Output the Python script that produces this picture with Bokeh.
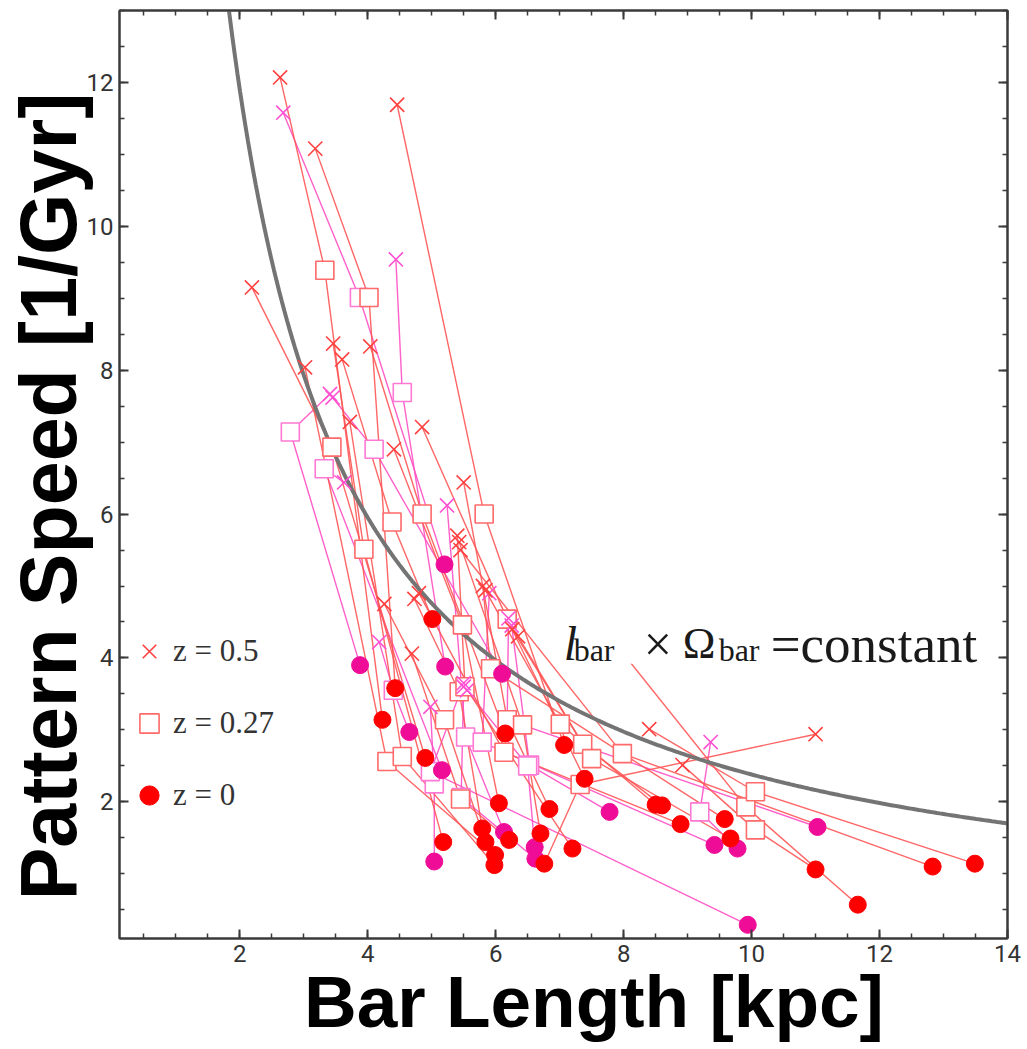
import numpy as np
from bokeh.plotting import figure
from bokeh.models import (Range1d, LinearAxis, SingleIntervalTicker, Legend,
                          LegendItem, Label, BoxAnnotation)
from bokeh.embed import file_html
from bokeh.resources import INLINE

# ---------------- data ----------------
# red tracks: bar length / pattern speed at z=0.5, z=0.27, z=0
red_len_z05 = [2.63, 3.18, 4.46, 2.19, 3.46, 4.04, 3.60, 3.02, 3.72, 4.85, 4.41, 5.50, 5.43, 5.84,
               4.73, 4.26, 6.26, 4.69, 7.60, 8.40, 8.92, 11.00, 5.40, 5.45, 4.80, 5.80, 6.35]
red_spd_z05 = [12.07, 11.08, 11.69, 9.15, 8.37, 8.33, 8.15, 8.04, 7.28, 7.21, 6.90, 6.44, 5.61, 4.94,
               4.82, 4.75, 4.40, 4.06, 4.50, 3.01, 2.51, 2.94, 5.70, 5.50, 4.90, 5.00, 4.30]
red_len_z027 = [3.33, 4.02, 5.82, 3.44, 3.94, 4.85, 4.38, 4.30, 4.54, 6.18, 5.48, 6.18, 6.42, 7.01,
                5.43, 5.20, 7.36, 5.45, 9.91, 10.06, 10.06, 7.32, 5.52, 7.98, 6.13, 5.92, 7.50]
red_spd_z027 = [9.39, 9.01, 6.00, 6.93, 5.51, 6.00, 5.89, 2.56, 2.63, 4.54, 4.46, 3.14, 3.07, 3.08,
                3.53, 3.14, 2.80, 2.04, 1.93, 2.14, 1.61, 2.24, 3.60, 2.67, 2.69, 3.85, 2.60]
red_len_z0 = [4.23, 4.43, 7.07, 4.90, 5.18, 6.15, 5.01, 5.99, 5.98, 7.39, 6.05, 6.84, 6.70, 8.50,
              5.79, 5.84, 8.60, 6.21, 11.66, 13.49, 11.00, 6.76, 7.20, 12.83, 8.89, 9.58, 9.67]
red_spd_z0 = [3.14, 3.58, 2.79, 2.61, 1.44, 2.95, 4.54, 1.26, 1.12, 2.32, 1.98, 1.90, 1.56, 1.96,
              1.63, 1.44, 1.95, 1.47, 0.57, 1.14, 1.06, 1.14, 1.35, 1.10, 1.69, 1.76, 1.49]

# magenta tracks
mag_len_z05 = [2.68, 4.44, 3.41, 3.63, 3.45, 5.24, 4.98, 4.18, 9.36, 5.90, 6.25, 5.50, 6.20, 5.55, 5.50]
mag_spd_z05 = [11.58, 9.54, 7.67, 6.44, 7.62, 6.12, 3.32, 4.22, 2.83, 4.90, 4.45, 3.65, 4.55, 3.55, 3.60]
mag_len_z027 = [3.87, 4.54, 2.79, 3.32, 4.10, 5.53, 5.04, 4.40, 9.19, 5.79, 6.53, 4.98, 6.18, 6.50, 5.46]
mag_spd_z027 = [9.01, 7.69, 7.14, 6.63, 6.90, 2.90, 2.25, 3.55, 1.86, 2.83, 2.51, 2.42, 3.14, 2.50, 2.06]
mag_len_z0 = [5.20, 5.21, 3.88, 5.16, 6.10, 6.13, 5.04, 4.65, 9.78, 9.42, 7.78, 9.94, 11.03, 6.61, 6.62]
mag_spd_z0 = [5.30, 3.88, 3.90, 2.44, 3.78, 1.58, 1.17, 2.97, 1.35, 1.40, 1.86, 0.29, 1.65, 1.37, 1.21]

# l_bar x Omega_bar = constant
curve_constant = 23.8
curve_len_min, curve_len_max = 1.8, 14.0

legend_labels = ["z = 0.5", "z = 0.27", "z = 0"]
x_axis_title = "Bar Length [kpc]"
y_axis_title = "Pattern Speed [1/Gyr]"

# ---------------- styles ----------------
RED_LINE = "#ff5555"
MAG_LINE = "#ff4fc4"
RED_DOT = "#ff0000"
MAG_DOT = "#ef0c96"
RED_X = "#ff4040"
MAG_X = "#ff50d2"
RED_SQ = "#ff6a6a"
MAG_SQ = "#ff78d4"
CURVE = "#747474"
AX = "#3a3a3a"
NBSP = "\u00a0"

p = figure(width=1027, height=1049, output_backend="svg", toolbar_location=None,
           x_range=Range1d(0.12, 14.0), y_range=Range1d(0.1, 13.0),
           min_border_left=118, min_border_right=20, min_border_top=10, min_border_bottom=111,
           background_fill_color="white", border_fill_color="white")
p.grid.visible = False
p.outline_line_color = AX
p.outline_line_width = 2

def tracks(x05, y05, x027, y027, x0, y0):
    xs = [[a, b, c] for a, b, c in zip(x05, x027, x0)]
    ys = [[a, b, c] for a, b, c in zip(y05, y027, y0)]
    return xs, ys

mxs, mys = tracks(mag_len_z05, mag_spd_z05, mag_len_z027, mag_spd_z027, mag_len_z0, mag_spd_z0)
rxs, rys = tracks(red_len_z05, red_spd_z05, red_len_z027, red_spd_z027, red_len_z0, red_spd_z0)
p.multi_line(mxs, mys, line_color=MAG_LINE, line_width=1.4, line_alpha=0.9)
p.multi_line(rxs, rys, line_color=RED_LINE, line_width=1.4, line_alpha=0.9)

# constant curve
cx = np.linspace(curve_len_min, curve_len_max, 300)
p.line(cx, curve_constant / cx, line_color=CURVE, line_width=4)

# markers
p.scatter(mag_len_z027, mag_spd_z027, marker="square", size=18, fill_color="white",
          line_color=MAG_SQ, line_width=1.6)
rs = p.scatter(red_len_z027, red_spd_z027, marker="square", size=18, fill_color="white",
               line_color=RED_SQ, line_width=1.6)
p.scatter(mag_len_z05, mag_spd_z05, marker="x", size=20, line_color=MAG_X, line_width=1.6)
rx = p.scatter(red_len_z05, red_spd_z05, marker="x", size=20, line_color=RED_X, line_width=1.6)
p.scatter(mag_len_z0, mag_spd_z0, marker="circle", size=17, fill_color=MAG_DOT, line_color=MAG_DOT)
rc = p.scatter(red_len_z0, red_spd_z0, marker="circle", size=17, fill_color=RED_DOT, line_color=RED_DOT)

# axes
def style_axis(ax, labels=True):
    ax.ticker = SingleIntervalTicker(interval=2, num_minor_ticks=4)
    ax.axis_line_color = AX
    ax.axis_line_width = 2
    ax.major_tick_line_color = AX
    ax.minor_tick_line_color = AX
    ax.major_tick_line_width = 2
    ax.minor_tick_line_width = 1.5
    ax.major_tick_in = 9
    ax.major_tick_out = 0
    ax.minor_tick_in = 5
    ax.minor_tick_out = 0
    if labels:
        ax.major_label_text_font = "Roboto"
        ax.major_label_text_font_size = "24px"
        ax.major_label_text_color = "#333333"
        ax.major_label_standoff = 6
    else:
        ax.major_label_text_color = None
        ax.major_label_text_font_size = "6px"
        ax.major_label_standoff = 0

style_axis(p.xaxis[0])
style_axis(p.yaxis[0])
# no-break spaces nudge the centred titles to where the reference draws them
p.xaxis[0].axis_label = NBSP * 3 + x_axis_title
p.yaxis[0].axis_label = y_axis_title + NBSP * 2
for ax in (p.xaxis[0], p.yaxis[0]):
    ax.axis_label_text_font = "Liberation Sans"
    ax.axis_label_text_font_style = "bold"
    ax.axis_label_text_color = "black"
p.xaxis[0].axis_label_text_font_size = "73px"
p.yaxis[0].axis_label_text_font_size = "79px"
p.xaxis[0].axis_label_standoff = -4
p.yaxis[0].axis_label_standoff = -9

top = LinearAxis()
right = LinearAxis()
style_axis(top, labels=False)
style_axis(right, labels=False)
p.add_layout(top, "above")
p.add_layout(right, "right")

# legend
legend = Legend(items=[LegendItem(label=legend_labels[0], renderers=[rx]),
                       LegendItem(label=legend_labels[1], renderers=[rs]),
                       LegendItem(label=legend_labels[2], renderers=[rc])],
                location=(6, 119), orientation="vertical",
                glyph_width=48, glyph_height=48, label_height=48, spacing=24,
                label_standoff=-12, padding=0, margin=0,
                border_line_alpha=0, background_fill_alpha=0,
                label_text_font="Liberation Serif", label_text_font_size="31px",
                label_text_color="#333333")
p.add_layout(legend)

# annotation "l_bar x Omega_bar = constant" on a white box
p.add_layout(BoxAnnotation(left=6.96, right=13.75, bottom=3.92, top=4.72,
                           fill_color="white", fill_alpha=1.0, line_alpha=0))
ann_x, ann_y = 7.0, 4.2
pieces = [("l", 4, 0, "48px", "italic"),
          ("bar", 14, -6, "32px", "normal"),
          ("\u00d7", 84, 0, "50px", "normal"),
          ("\u03a9", 123, 0, "44px", "normal"),
          ("bar", 159, -6, "32px", "normal"),
          ("=constant", 211, 0, "53px", "normal")]
for txt, dx, dy, fs, st in pieces:
    p.add_layout(Label(x=ann_x, y=ann_y, x_offset=dx, y_offset=dy, text=txt,
                       text_font="Liberation Serif", text_font_size=fs, text_font_style=st,
                       text_color="#1a1a1a", text_baseline="alphabetic", text_align="left"))

open("out.html", "w").write(file_html(p, INLINE))
